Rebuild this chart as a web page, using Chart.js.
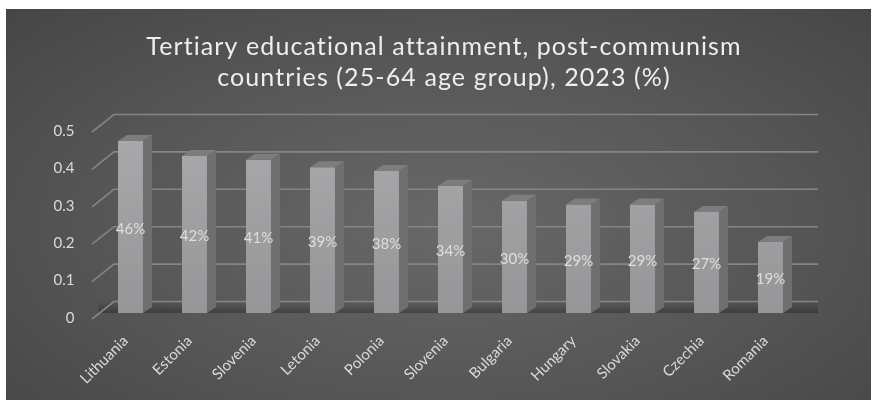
<!DOCTYPE html>
<html>
<head>
<meta charset="utf-8">
<script src="https://cdn.jsdelivr.net/npm/chart.js@4"></script>
<style>
  html, body { margin: 0; padding: 0; background: #fff; }
  #wrap { position: relative; width: 871px; height: 400px; overflow: hidden; }
  #panel {
    position: absolute; left: 6px; top: 9px; right: 0; bottom: 0;
    background: radial-gradient(ellipse 72% 80% at 51% 55%, #686868 0%, #565656 55%, #454545 100%);
  }
  #chart { position: absolute; left: 0; top: 0; }
</style>
</head>
<body>
<div id="wrap">
  <div id="panel"></div>
  <canvas id="chart" width="871" height="400"></canvas>
</div>
<script>
// datos
const countries = ['Lithuania', 'Estonia', 'Slovenia', 'Letonia', 'Polonia', 'Slovenia',
  'Bulgaria', 'Hungary', 'Slovakia', 'Czechia', 'Romania'];
const attainment = [0.46, 0.42, 0.41, 0.39, 0.38, 0.34, 0.30, 0.29, 0.29, 0.27, 0.19];
const yTicks = [0, 0.1, 0.2, 0.3, 0.4, 0.5];
const titleLines = ['Tertiary educational attainment, post-communism', 'countries (25-64 age group), 2023 (%)'];

const FONT = 'Lato, "Open Sans", sans-serif';
const DEPTH_X = 9, DEPTH_Y = -6;       // profundidad de las barras
const WALL_X = 15.5, WALL_Y = -11.5;   // desplazamiento de la pared del fondo

// título con espaciado de letras
const titleText = {
  id: 'titleText',
  afterDraw(chart) {
    const { ctx } = chart;
    ctx.save();
    ctx.font = '25px ' + FONT;
    ctx.letterSpacing = '1.1px';
    ctx.fillStyle = '#eeeeee';
    ctx.textAlign = 'center';
    ctx.textBaseline = 'middle';
    titleLines.forEach((t, i) => ctx.fillText(t, 444, 47 + i * 31));
    ctx.restore();
  }
};

// rejilla 3D detrás de las barras
const wallGrid = {
  id: 'wallGrid',
  beforeDatasetsDraw(chart) {
    const { ctx, chartArea: a, scales: { y } } = chart;
    ctx.save();
    // sombra del suelo
    const zero = y.getPixelForValue(0);
    const g = ctx.createLinearGradient(0, zero + WALL_Y, 0, zero);
    g.addColorStop(0, 'rgba(0,0,0,0)');
    g.addColorStop(1, 'rgba(0,0,0,0.28)');
    ctx.fillStyle = g;
    ctx.fillRect(a.left, zero + WALL_Y, a.right - a.left + WALL_X, -WALL_Y);

    ctx.strokeStyle = '#858585';
    ctx.lineWidth = 1.6;
    yTicks.forEach(v => {
      const py = y.getPixelForValue(v);
      ctx.beginPath();
      ctx.moveTo(a.left - 6.5, py + 6);
      ctx.lineTo(a.left + WALL_X, py + WALL_Y);
      ctx.lineTo(a.right + WALL_X, py + WALL_Y);
      ctx.stroke();
    });
    ctx.restore();
  }
};

// caras lateral y superior + etiquetas
const bars3d = {
  id: 'bars3d',
  afterDatasetsDraw(chart) {
    const { ctx } = chart;
    const meta = chart.getDatasetMeta(0);
    ctx.save();
    meta.data.forEach((bar, i) => {
      const { x, y, base, width } = bar.getProps(['x', 'y', 'base', 'width'], true);
      const l = x - width / 2, r = x + width / 2;
      // lado
      ctx.fillStyle = '#6f6f71';
      ctx.beginPath();
      ctx.moveTo(r, y);
      ctx.lineTo(r + DEPTH_X, y + DEPTH_Y);
      ctx.lineTo(r + DEPTH_X, base + DEPTH_Y);
      ctx.lineTo(r, base);
      ctx.closePath();
      ctx.fill();
      // tapa
      ctx.fillStyle = '#7d7d7f';
      ctx.beginPath();
      ctx.moveTo(l, y);
      ctx.lineTo(l + DEPTH_X, y + DEPTH_Y);
      ctx.lineTo(r + DEPTH_X, y + DEPTH_Y);
      ctx.lineTo(r, y);
      ctx.closePath();
      ctx.fill();
      // etiqueta
      ctx.fillStyle = '#dedede';
      ctx.font = '15px ' + FONT;
      ctx.textAlign = 'center';
      ctx.textBaseline = 'middle';
      ctx.fillText(Math.round(attainment[i] * 100) + '%', x, (y + base) / 2 + 2);
    });
    ctx.restore();
  }
};

const ctx = document.getElementById('chart').getContext('2d');
const frontFill = ctx.createLinearGradient(0, 130, 0, 315);
frontFill.addColorStop(0, '#a9a9ab');
frontFill.addColorStop(1, '#969698');

new Chart(ctx, {
  type: 'bar',
  data: {
    labels: countries,
    datasets: [{
      data: attainment,
      backgroundColor: frontFill,
      borderWidth: 0,
      categoryPercentage: 1,
      barPercentage: 0.39
    }]
  },
  options: {
    responsive: false,
    animation: false,
    layout: { padding: { left: 0, right: 68.5, top: 126, bottom: 0 } },
    scales: {
      x: {
        grid: { display: false, drawTicks: false },
        border: { display: false },
        ticks: {
          color: '#dadada',
          font: { family: FONT, size: 15 },
          minRotation: 45, maxRotation: 45,
          padding: 19,
          labelOffset: -5
        },
        afterFit(s) { s.height = 87; }
      },
      y: {
        min: 0, max: 0.5,
        grid: { display: false, drawTicks: false },
        border: { display: false },
        ticks: {
          stepSize: 0.1,
          color: '#dadada',
          font: { family: FONT, size: 15 },
          padding: 24,
          labelOffset: 5,
          callback: v => String(Math.round(v * 10) / 10)
        },
        afterFit(s) { s.width = 98.5; }
      }
    },
    plugins: {
      legend: { display: false },
      tooltip: { enabled: false },
      title: { display: false }
    }
  },
  plugins: [wallGrid, bars3d, titleText]
});
</script>
</body>
</html>
